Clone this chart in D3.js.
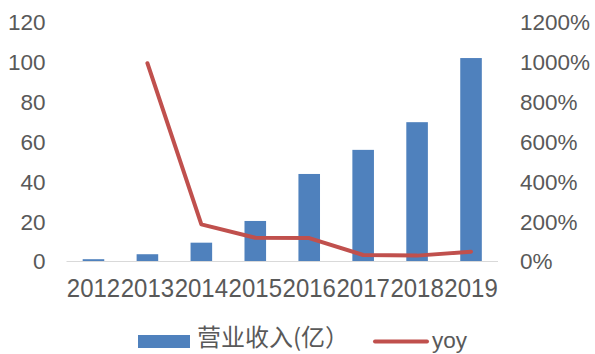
<!DOCTYPE html>
<html>
<head>
<meta charset="utf-8">
<script src="https://cdn.jsdelivr.net/npm/d3@7/dist/d3.min.js"></script>
<style>
  html, body { margin: 0; padding: 0; background: #fff; }
  svg text { font-family: "Liberation Sans", Arial, "Noto Sans CJK SC", sans-serif; fill: #595959; }
</style>
</head>
<body>
<svg id="chart" width="595" height="354"></svg>
<script>
// Revenue (亿) and year-over-year growth by year
const years = ["2012", "2013", "2014", "2015", "2016", "2017", "2018", "2019"];
const revenue = [0.9, 3.4, 9.2, 20.1, 43.7, 55.8, 69.7, 101.9];
const yoyYears = ["2013", "2014", "2015", "2016", "2017", "2018", "2019"];
const yoy = [9.93, 1.84, 1.17, 1.15, 0.30, 0.27, 0.47];
const leftTicks = [0, 20, 40, 60, 80, 100, 120];
const rightTicks = [0, 2, 4, 6, 8, 10, 12];
const legendLabels = ["营业收入(亿）", "yoy"];

const svg = d3.select("#chart");
const plot = { left: 66.5, right: 498, top: 22, bottom: 261 };
const fontSize = 22.5;
const latin = '"Liberation Sans", Arial, sans-serif';

const x = d3.scaleBand().domain(years).range([plot.left, plot.right]).paddingInner(0.6).paddingOuter(0.3);
const yL = d3.scaleLinear().domain([0, 120]).range([plot.bottom, plot.top]);
const yR = d3.scaleLinear().domain([0, 12]).range([plot.bottom, plot.top]);

// Bars
svg.append("g").selectAll("rect").data(revenue).join("rect")
  .attr("x", (d, i) => x(years[i]))
  .attr("width", x.bandwidth())
  .attr("y", d => yL(d))
  .attr("height", d => yL(0) - yL(d))
  .attr("fill", "#4f81bd");

// Baseline
svg.append("line")
  .attr("x1", plot.left).attr("x2", plot.right)
  .attr("y1", plot.bottom + 0.5).attr("y2", plot.bottom + 0.5)
  .attr("stroke", "#d9d9d9").attr("stroke-width", 1);

// Growth line
const line = d3.line()
  .x((d, i) => x(yoyYears[i]) + x.bandwidth() / 2)
  .y(d => yR(d));
svg.append("path").datum(yoy)
  .attr("d", line)
  .attr("fill", "none")
  .attr("stroke", "#c0504d")
  .attr("stroke-width", 4)
  .attr("stroke-linejoin", "round")
  .attr("stroke-linecap", "round");

// Left axis
const leftAxis = d3.axisLeft(yL).tickValues(leftTicks).tickSize(0).tickPadding(0);
const gL = svg.append("g").attr("transform", `translate(${plot.left - 21},0)`).call(leftAxis);
gL.select(".domain").remove();
gL.selectAll("text").attr("font-size", fontSize).attr("dy", "0.35em")
  .style("font-family", latin).attr("fill", "#595959");

// Right axis
const rightAxis = d3.axisRight(yR).tickValues(rightTicks).tickSize(0).tickPadding(0)
  .tickFormat(d => d3.format(".0%")(d));
const gR = svg.append("g").attr("transform", `translate(520,0)`).call(rightAxis);
gR.select(".domain").remove();
gR.selectAll("text").attr("font-size", fontSize).attr("dy", "0.35em")
  .style("font-family", latin).attr("fill", "#595959");

// Category axis: labels fill each band, so they sit edge to edge
const bottomAxis = d3.axisBottom(x).tickSize(0).tickPadding(0);
const gB = svg.append("g").attr("transform", `translate(0,${plot.bottom + 27})`).call(bottomAxis);
gB.select(".domain").remove();
gB.selectAll("text").attr("font-size", 26.5).attr("dy", "0.35em")
  .attr("textLength", x.step() - 0.6).attr("lengthAdjust", "spacingAndGlyphs")
  .style("font-family", latin).attr("fill", "#595959");

// Legend
const legend = svg.append("g");
legend.append("rect").attr("x", 138).attr("y", 335).attr("width", 52).attr("height", 13).attr("fill", "#4f81bd");
legend.append("text").attr("x", 197).attr("y", 338).attr("dy", "0.35em")
  .attr("font-size", 24).attr("fill", "#707070")
  .style("font-family", '"Noto Sans CJK SC", sans-serif')
  .text(legendLabels[0]);
legend.append("line").attr("x1", 375).attr("x2", 427).attr("y1", 341.5).attr("y2", 341.5)
  .attr("stroke", "#c0504d").attr("stroke-width", 4).attr("stroke-linecap", "round");
legend.append("text").attr("x", 432).attr("y", 340).attr("dy", "0.35em")
  .attr("font-size", fontSize).style("font-family", latin).text(legendLabels[1]);
</script>
</body>
</html>
